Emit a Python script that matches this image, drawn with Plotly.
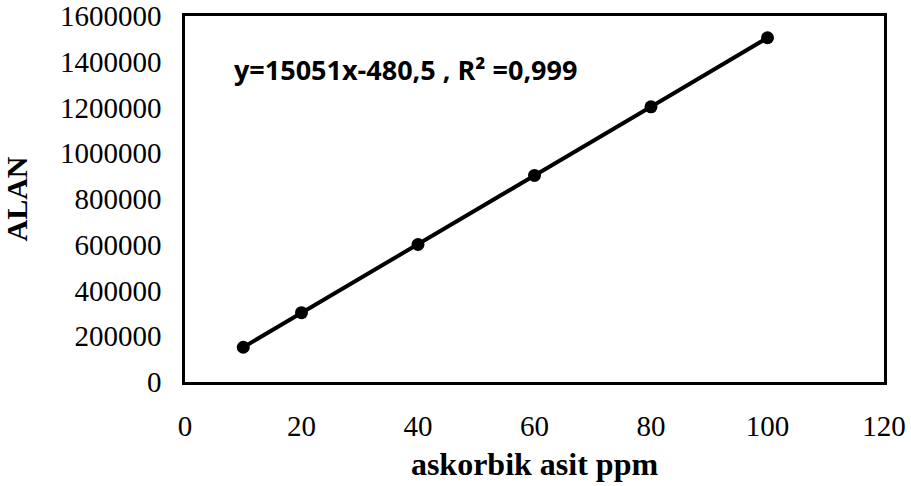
import plotly.graph_objects as go

x_vals = [10, 20, 40, 60, 80, 100]
y_vals = [152000, 303000, 601000, 903000, 1203000, 1505000]
x_ticks = [0, 20, 40, 60, 80, 100, 120]
y_ticks = [0, 200000, 400000, 600000, 800000, 1000000, 1200000, 1400000, 1600000]
equation = "y=15051x-480,5 , R² =0,999"

fig = go.Figure()
fig.add_trace(go.Scatter(
    x=x_vals, y=y_vals, mode="lines+markers",
    line=dict(color="black", width=4),
    marker=dict(color="black", size=13),
    showlegend=False,
))

axis_common = dict(
    showgrid=False, zeroline=False, showline=True, linecolor="black",
    linewidth=2.5, mirror=True, ticks="outside", tickcolor="rgba(0,0,0,0)",
    automargin=False, ticklabeloverflow="allow",
    tickfont=dict(family="Liberation Serif", size=29, color="black"),
)

fig.update_layout(
    width=911, height=486,
    margin=dict(l=185, r=27, t=16, b=104),
    paper_bgcolor="white", plot_bgcolor="white",
    xaxis=dict(range=[0, 120], tickvals=x_ticks, ticktext=[str(v) for v in x_ticks],
               ticklen=16,
               title=dict(text="<b>askorbik asit ppm</b>", standoff=13,
                          font=dict(family="Liberation Serif", size=32, color="black")),
               **axis_common),
    yaxis=dict(range=[0, 1600000], tickvals=y_ticks, ticktext=[str(v) for v in y_ticks],
               ticklen=15,
               title=dict(text="<b>ALAN</b>", standoff=32,
                          font=dict(family="Liberation Serif", size=30, color="black")),
               **axis_common),
    annotations=[dict(
        x=0.067, y=0.855, xref="paper", yref="paper", xanchor="left", yanchor="middle",
        text="<b>" + equation + "</b>", showarrow=False,
        font=dict(family="Open Sans", size=27, color="black"),
    )],
)

fig.write_html(
    "out.html",
    config={"displayModeBar": False},
    post_script="document.body.style.margin='0';document.body.style.overflow='hidden';",
)
